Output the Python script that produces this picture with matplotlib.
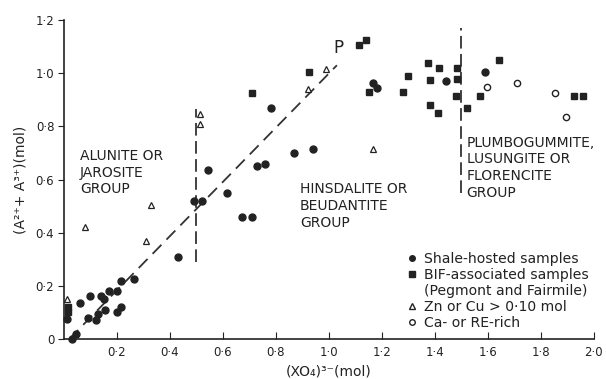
import matplotlib.pyplot as plt
from matplotlib.lines import Line2D

# shale-hosted samples (filled circles)
shale_x = [0.03, 0.045, 0.01, 0.06, 0.10, 0.09, 0.12, 0.13, 0.14, 0.15, 0.155, 0.17, 0.20, 0.20,
           0.215, 0.215, 0.265, 0.43, 0.49, 0.52, 0.615, 0.545, 0.67, 0.71, 0.73, 0.76, 0.78,
           0.87, 0.94, 1.165, 1.18, 1.44, 1.59]
shale_y = [0.0, 0.02, 0.075, 0.135, 0.16, 0.08, 0.07, 0.095, 0.16, 0.15, 0.11, 0.18, 0.18, 0.10,
           0.12, 0.22, 0.225, 0.31, 0.52, 0.52, 0.55, 0.635, 0.46, 0.46, 0.65, 0.66, 0.87,
           0.70, 0.715, 0.965, 0.945, 0.97, 1.005]

# BIF-associated samples (filled squares)
bif_x = [0.015, 0.015, 0.71, 0.925, 1.115, 1.14, 1.15, 1.28, 1.30, 1.375, 1.38, 1.415, 1.485,
         1.485, 1.48, 1.38, 1.41, 1.52, 1.57, 1.64, 1.925, 1.96]
bif_y = [0.12, 0.10, 0.925, 1.005, 1.105, 1.125, 0.93, 0.93, 0.99, 1.04, 0.975, 1.02, 1.02,
         0.98, 0.915, 0.88, 0.85, 0.87, 0.915, 1.05, 0.915, 0.915]

# Zn or Cu > 0.10 mol (open triangles)
zn_x = [0.01, 0.08, 0.31, 0.33, 0.515, 0.515, 0.92, 0.99, 1.165]
zn_y = [0.15, 0.42, 0.37, 0.505, 0.81, 0.845, 0.94, 1.015, 0.715]

# Ca- or RE-rich (open circles)
ca_x = [1.595, 1.71, 1.855, 1.895]
ca_y = [0.95, 0.965, 0.925, 0.835]

# guide lines
trend_x = [0.02, 1.03]
trend_y = [0.0, 1.03]
div1_x = [0.5, 0.5]
div1_y = [0.29, 0.865]
div2_x = [1.5, 1.5]
div2_y = [0.55, 1.17]

xticks = [0.2, 0.4, 0.6, 0.8, 1.0, 1.2, 1.4, 1.6, 1.8, 2.0]
yticks = [0, 0.2, 0.4, 0.6, 0.8, 1.0, 1.2]

ink = '#222222'

fig = plt.figure(figsize=(6.06, 3.79), dpi=100)
ax = fig.add_axes([0.1056, 0.1055, 0.8744, 0.8415])

ax.plot(trend_x, trend_y, color='#333333', lw=1.3, dashes=(7, 4))
ax.plot(div1_x, div1_y, color='#333333', lw=1.3, dashes=(7, 3))
ax.plot(div2_x, div2_y, color='#333333', lw=1.3, dashes=(7, 3))

ax.plot(shale_x, shale_y, 'o', ms=5, color=ink, clip_on=False)
ax.plot(bif_x, bif_y, 's', ms=5, color=ink, clip_on=False)
ax.plot(zn_x, zn_y, '^', ms=4.5, mfc='white', mec=ink, mew=0.9, clip_on=False)
ax.plot(ca_x, ca_y, 'o', ms=4.5, mfc='white', mec=ink, mew=1.0, clip_on=False)

ax.text(1.035, 1.06, 'P', fontsize=12, color=ink, ha='center', va='bottom')

lab = dict(fontsize=10, color=ink, va='top', ha='left', linespacing=1.25)
ax.text(0.06, 0.715, 'ALUNITE OR\nJAROSITE\nGROUP', **lab)
ax.text(0.89, 0.59, 'HINSDALITE OR\nBEUDANTITE\nGROUP', **lab)
ax.text(1.52, 0.765, 'PLUMBOGUMMITE,\nLUSUNGITE OR\nFLORENCITE\nGROUP', **lab)

handles = [
    Line2D([], [], ls='none', marker='o', ms=4, color=ink),
    Line2D([], [], ls='none', marker='s', ms=4, color=ink),
    Line2D([], [], ls='none', marker=None),
    Line2D([], [], ls='none', marker='^', ms=4, mfc='white', mec=ink),
    Line2D([], [], ls='none', marker='o', ms=4, mfc='white', mec=ink),
]
labels = ['Shale-hosted samples', 'BIF-associated samples', '(Pegmont and Fairmile)',
          'Zn or Cu > 0·10 mol', 'Ca- or RE-rich']
leg = ax.legend(handles, labels, loc='upper left', bbox_to_anchor=(0.648, 0.272),
                frameon=False, fontsize=10.1, handlelength=0.6, handletextpad=0.6,
                labelspacing=0.14, borderpad=0, borderaxespad=0)
for t in leg.get_texts():
    t.set_color(ink)

ax.set_xlim(0, 2.0)
ax.set_ylim(0, 1.2)
ax.set_xticks(xticks)
ax.set_xticklabels([f'{v:.1f}'.replace('.', '·') for v in xticks])
ax.set_yticks(yticks)
ax.set_yticklabels(['0'] + [f'{v:.1f}'.replace('.', '·') for v in yticks[1:]])
ax.get_yticklabels()[0].set_fontsize(14)
ax.tick_params(axis='x', direction='in', length=5, pad=5, labelsize=8.5, colors=ink)
ax.tick_params(axis='y', direction='out', length=4, pad=3, labelsize=8.5, colors=ink)
for s in ['top', 'right']:
    ax.spines[s].set_visible(False)
for s in ['left', 'bottom']:
    ax.spines[s].set_color(ink)
    ax.spines[s].set_linewidth(1.2)

ax.set_xlabel('(XO₄)³⁻(mol)', fontsize=10, color=ink, labelpad=4)
ax.set_ylabel('(A²⁺+ A³⁺)(mol)', fontsize=10, color=ink, labelpad=6)

fig.savefig('out.png', dpi=100)
